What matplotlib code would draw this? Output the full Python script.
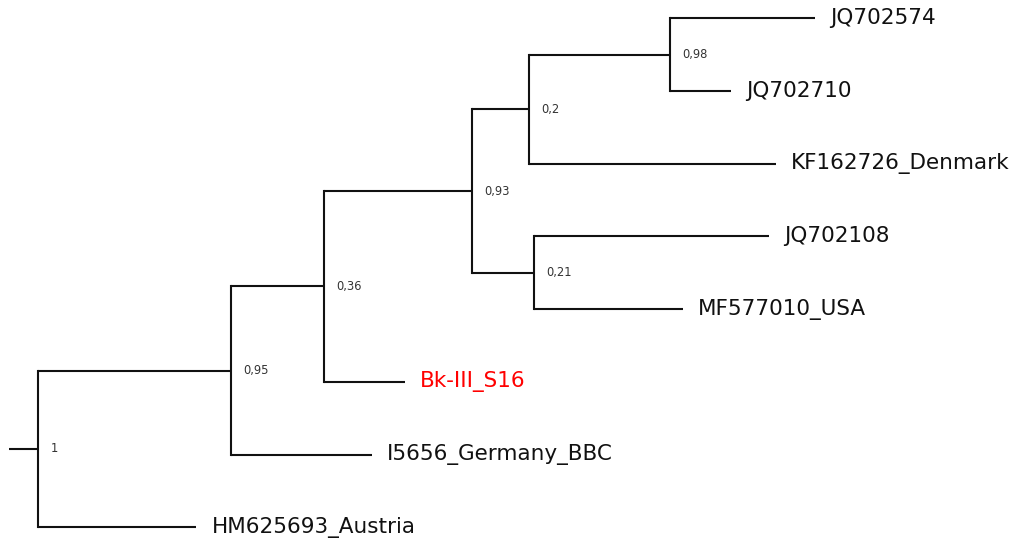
import matplotlib
matplotlib.use("Agg")
import matplotlib.pyplot as plt

# Tree topology: each node, its parent, and branch length (arbitrary units)
node_ids = ["root", "n95", "n36", "n93", "n20", "n98", "n21",
            "JQ702574", "JQ702710", "KF162726_Denmark", "JQ702108",
            "MF577010_USA", "Bk-III_S16", "I5656_Germany_BBC", "HM625693_Austria"]
parents = [None, "root", "n95", "n36", "n93", "n20", "n93",
           "n98", "n98", "n20", "n21",
           "n21", "n36", "n95", "root"]
branch_len = [0.0, 0.193, 0.0925, 0.148, 0.057, 0.1415, 0.0625,
              0.1445, 0.0605, 0.247, 0.235,
              0.148, 0.081, 0.140, 0.158]
root_stub = 0.029

# Posterior support for internal nodes
support_nodes = ["root", "n95", "n36", "n93", "n20", "n98", "n21"]
support_text = ["1", "0,95", "0,36", "0,93", "0,2", "0,98", "0,21"]

# Leaves from top to bottom
leaf_order = ["JQ702574", "JQ702710", "KF162726_Denmark", "JQ702108",
              "MF577010_USA", "Bk-III_S16", "I5656_Germany_BBC", "HM625693_Austria"]
highlight = ["Bk-III_S16"]

parent_of = dict(zip(node_ids, parents))
length_of = dict(zip(node_ids, branch_len))
kids = {n: [c for c, p in zip(node_ids, parents) if p == n] for n in node_ids}

# x = cumulative branch length from root
xpos = {}
for n in node_ids:
    p = parent_of[n]
    xpos[n] = 0.0 if p is None else xpos[p] + length_of[n]

# y = leaf index, internal nodes at the midpoint of their children
ypos = {leaf: i for i, leaf in enumerate(leaf_order)}
def get_y(n):
    if n not in ypos:
        ys = [get_y(c) for c in kids[n]]
        ypos[n] = (min(ys) + max(ys)) / 2
    return ypos[n]
for n in node_ids:
    get_y(n)

fig = plt.figure(figsize=(10.17, 5.44), dpi=100)
ax = fig.add_axes([0, 0, 1, 1])
ax.set_xlim(-0.0385, 0.9785)
ax.set_ylim(7.23, -0.252)
ax.axis("off")

lw = 1.5
col = "#111111"
ax.plot([-root_stub, 0], [ypos["root"]] * 2, color=col, lw=lw, solid_capstyle="butt")
for n in node_ids:
    p = parent_of[n]
    if p is not None:
        ax.plot([xpos[p], xpos[n]], [ypos[n]] * 2, color=col, lw=lw, solid_capstyle="butt")
    if kids[n]:
        ys = [ypos[c] for c in kids[n]]
        ax.plot([xpos[n]] * 2, [min(ys), max(ys)], color=col, lw=lw, solid_capstyle="projecting")

for leaf in leaf_order:
    ax.text(xpos[leaf] + 0.015, ypos[leaf], leaf, ha="left", va="center",
            fontsize=15.5, family="DejaVu Sans",
            color="#ff0000" if leaf in highlight else "#111111")

for n, s in zip(support_nodes, support_text):
    ax.text(xpos[n] + 0.012, ypos[n], s, ha="left", va="center",
            fontsize=8.3, family="DejaVu Sans", color="#333333")

fig.savefig("out.png", dpi=100)
